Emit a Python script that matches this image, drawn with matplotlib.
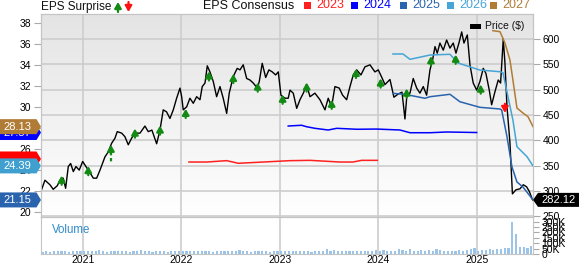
import numpy as np
import matplotlib
matplotlib.use("Agg")
import matplotlib.pyplot as plt
from matplotlib.colors import LinearSegmentedColormap
from matplotlib.patches import Polygon, Rectangle
from matplotlib.transforms import IdentityTransform, offset_copy

plt.rcParams['font.family'] = ['Liberation Sans', 'DejaVu Sans']

# ---- data (x in decimal years) ----
price_x = [2020.581, 2020.614, 2020.665, 2020.698, 2020.739, 2020.766, 2020.800, 2020.824, 2020.851, 2020.875,
           2020.902, 2020.929, 2020.962, 2020.997, 2021.030, 2021.071, 2021.105, 2021.139, 2021.173, 2021.223,
           2021.257, 2021.291, 2021.325, 2021.348, 2021.393, 2021.426, 2021.460, 2021.494, 2021.528, 2021.579,
           2021.629, 2021.663, 2021.700, 2021.748, 2021.782, 2021.815, 2021.849, 2021.883, 2021.917, 2021.951,
           2021.985, 2022.002, 2022.018, 2022.053, 2022.086, 2022.120, 2022.154, 2022.188, 2022.211, 2022.239,
           2022.262, 2022.289, 2022.323, 2022.357, 2022.391, 2022.424, 2022.459, 2022.485, 2022.526, 2022.566,
           2022.594, 2022.627, 2022.662, 2022.695, 2022.729, 2022.770, 2022.790, 2022.820, 2022.855, 2022.888,
           2022.922, 2022.956, 2022.983, 2023.010, 2023.051, 2023.084, 2023.102, 2023.135, 2023.170, 2023.203,
           2023.237, 2023.271, 2023.305, 2023.355, 2023.406, 2023.457, 2023.490, 2023.524, 2023.558, 2023.602,
           2023.636, 2023.677, 2023.711, 2023.744, 2023.779, 2023.822, 2023.863, 2023.914, 2023.964, 2023.998,
           2024.032, 2024.066, 2024.117, 2024.157, 2024.198, 2024.239, 2024.269, 2024.289, 2024.320, 2024.353,
           2024.388, 2024.421, 2024.455, 2024.489, 2024.523, 2024.550, 2024.574, 2024.597, 2024.624, 2024.658,
           2024.692, 2024.726, 2024.759, 2024.787, 2024.817, 2024.845, 2024.868, 2024.902, 2024.929, 2024.962,
           2024.997, 2025.030, 2025.064, 2025.091, 2025.125, 2025.149, 2025.183, 2025.216, 2025.240, 2025.267,
           2025.284, 2025.305, 2025.335, 2025.360, 2025.396, 2025.437, 2025.470, 2025.504, 2025.531, 2025.565]
price_y = [303, 321, 312, 303, 310, 321, 325, 305, 348, 354,
           338, 348, 341, 358, 348, 336, 325, 325, 341, 367,
           377, 394, 404, 417, 414, 407, 391, 404, 414, 414,
           428, 417, 420, 393, 420, 460, 456, 443, 460, 483,
           503, 486, 460, 466, 483, 473, 486, 480, 506, 513,
           547, 535, 516, 486, 506, 483, 453, 493, 526, 542,
           539, 549, 522, 519, 513, 503, 516, 552, 524, 539,
           535, 529, 535, 489, 483, 483, 499, 493, 463, 480,
           493, 509, 486, 493, 480, 460, 483, 466, 506, 503,
           489, 480, 506, 529, 539, 529, 545, 549, 535, 539,
           525, 510, 520, 485, 491, 495, 442, 490, 493, 522,
           503, 493, 506, 489, 539, 559, 585, 572, 592, 578,
           598, 582, 592, 572, 592, 614, 592, 608, 549, 513,
           499, 516, 542, 532, 499, 470, 496, 519, 513, 600,
           553, 466, 395, 294, 302, 304, 312, 308, 299, 282.12]

eps23_x = [2022.076, 2022.256, 2022.459, 2022.577, 2022.830, 2023.102, 2023.305, 2023.609, 2023.741, 2023.829, 2023.988]
eps23_y = [24.76, 24.76, 24.89, 24.64, 24.76, 24.89, 24.92, 24.76, 24.76, 24.92, 24.92]

eps24_x = [2023.084, 2023.220, 2023.271, 2023.355, 2023.490, 2023.576, 2023.779, 2023.982, 2024.218, 2024.320,
           2024.523, 2024.692, 2024.997]
eps24_y = [28.19, 28.26, 28.12, 27.97, 27.81, 27.97, 27.88, 27.90, 27.81, 27.55, 27.55, 27.62, 27.57]

eps25_x = [2024.150, 2024.269, 2024.472, 2024.523, 2024.726, 2024.827, 2025.030, 2025.234, 2025.251, 2025.305,
           2025.355, 2025.406, 2025.467, 2025.569]
eps25_y = [31.30, 31.21, 30.83, 30.98, 31.21, 30.50, 29.97, 29.81, 29.71, 27.17, 24.31, 22.86, 22.38, 21.15]

eps26_x = [2024.147, 2024.249, 2024.320, 2024.523, 2024.726, 2024.807, 2025.030, 2025.234, 2025.264, 2025.315,
           2025.365, 2025.406, 2025.508, 2025.569]
eps26_y = [35.05, 35.05, 34.54, 34.95, 35.02, 34.19, 33.52, 33.36, 33.27, 30.98, 28.76, 26.22, 25.27, 24.39]

eps27_x = [2025.162, 2025.234, 2025.284, 2025.335, 2025.365, 2025.406, 2025.467, 2025.518, 2025.569]
eps27_y = [37.27, 37.17, 36.10, 34.48, 32.57, 29.90, 29.43, 29.08, 28.13]

# earnings surprise arrows (positive = green up)
beat_x = [2020.784, 2021.054, 2021.284, 2021.528, 2021.782, 2022.043, 2022.279, 2022.526, 2022.774, 2023.027,
          2023.271, 2023.525, 2023.772, 2024.022, 2024.286, 2024.533, 2024.784, 2025.038]
beat_y = [321, 340, 382, 414, 420, 453, 527, 522, 505, 481,
          505, 471, 532, 513, 493, 557, 560, 501]
miss_x = [2025.284]
miss_y = [463]
gap_x, gap_top, gap_bottom = 2021.284, 376, 355   # dashed stem under the 2021 arrow

years = [2021, 2022, 2023, 2024, 2025]
eps_ticks = [20, 22, 24, 26, 28, 30, 32, 34, 36, 38]
price_ticks = [250, 300, 350, 400, 450, 500, 550, 600]
vol_ticks = [0, 50, 100, 150, 200, 250, 300]
vol_labels = ['0', '50K', '100K', '150K', '200K', '250K', '300K']

# biweekly volume, thousands of shares, from mid 2020
vol_start = 2020.59
vol_k = [22, 25, 20, 28, 24, 30, 26, 22, 27, 32, 25,
         28, 24, 30, 26, 33, 25, 22, 27, 31, 24, 26, 29, 23, 25, 28, 35, 26, 24, 22, 27, 30, 25, 23, 26, 28, 24,
         30, 26, 28, 32, 25, 24, 27, 29, 23, 26, 25, 28, 31, 24, 26, 38, 27, 25, 23, 26, 24, 28, 25, 22, 27, 26,
         25, 27, 24, 26, 28, 30, 26, 24, 23, 28, 32, 25, 44, 28, 40, 26, 24, 27, 25, 28, 24, 26, 25, 30, 26, 33,
         28, 38, 32, 26, 30, 42, 35, 30, 45, 32, 28, 40, 30, 36, 28, 44, 34, 30, 27, 32, 29, 35, 30, 40, 48, 57,
         30, 35, 38, 45, 40, 42, 50, 52, 55, 300, 188, 67, 62, 55, 76]

consensus_names = ['2023', '2024', '2025', '2026', '2027']
consensus_colors = ['#ff2020', '#0000ff', '#2a63ae', '#45a5d6', '#b07c35']
# (text, value, colour); the 2023 tag is almost fully covered, its text is not visible
left_tags = [('27.57', 27.57, '#0000ff'), ('28.13', 28.13, '#b07c35'),
             ('', 25.05, '#ff0000'), ('24.39', 24.39, '#3fa0d0'),
             ('21.15', 21.15, '#2a63ae')]
last_price = 282.12

# ---- layout (pixels) ----
W, H = 579, 264
L, R = 41, 533
TOP, MID, BOT = 14, 217, 254
fig = plt.figure(figsize=(W / 100, H / 100), dpi=100)
ax = fig.add_axes([L / W, (H - MID) / H, (R - L) / W, (MID - TOP) / H])
axv = fig.add_axes([L / W, (H - BOT) / H, (R - L) / W, (BOT - MID) / H], sharex=ax)
eps = ax.twinx()

spine_c = '#c4c4c4'
grid_c = '#cdcdcd'

# background gradient
cmap = LinearSegmentedColormap.from_list('bg', ['#ffffff', '#e4e4e4'])
grad = np.linspace(1, 0, 256).reshape(-1, 1)
ax.imshow(grad, extent=(0, 1, 0, 1), transform=ax.transAxes, cmap=cmap, aspect='auto', zorder=0)

# price
ax.plot(price_x, price_y, color='black', lw=1.0, zorder=3)
ax.set_xlim(2020.574, 2025.569)
ax.set_ylim(248.3, 649.4)
ax.set_yticks(price_ticks)
ax.set_xticks(years)
ax.set_axisbelow(True)
ax.grid(True, color=grid_c, lw=1.2)
ax.yaxis.tick_right()
ax.tick_params(axis='y', length=5, color='#aaaaaa', labelsize=7.5, pad=2)
ax.tick_params(axis='x', length=0, labelbottom=False)

# consensus lines on the EPS axis
for xs, ys, c in zip([eps23_x, eps24_x, eps25_x, eps26_x, eps27_x],
                     [eps23_y, eps24_y, eps25_y, eps26_y, eps27_y], consensus_colors):
    eps.plot(xs, ys, color=c, lw=1.1)
eps.set_ylim(19.524, 38.857)
eps.set_yticks(eps_ticks)
eps.yaxis.tick_left()
eps.tick_params(axis='y', length=5, color='#aaaaaa', labelsize=7.5, pad=2)

for a in (ax, eps, axv):
    for s in a.spines.values():
        s.set_color(spine_c)

# surprise arrows
ap_up = dict(arrowstyle='-|>,head_length=0.35,head_width=0.2', color='#138a13', lw=1.6,
             shrinkA=0, shrinkB=0, mutation_scale=10)
ap_dn = dict(ap_up, color='#ff1010')
for x, p in zip(beat_x, beat_y):
    eps.annotate('', xy=(x, p), xycoords=offset_copy(ax.transData, fig=fig, y=3.3, units='points'),
                 xytext=(0, -6.6), textcoords='offset points', arrowprops=ap_up, zorder=6)
ax.plot([gap_x, gap_x], [gap_top, gap_bottom], color='#138a13', lw=1.6, ls=(0, (1.5, 1.2)), zorder=6)
for x, p in zip(miss_x, miss_y):
    eps.annotate('', xy=(x, p), xycoords=offset_copy(ax.transData, fig=fig, y=-3.3, units='points'),
                 xytext=(0, 6.6), textcoords='offset points', arrowprops=ap_dn, zorder=6)

# volume
vol_x = vol_start + np.arange(len(vol_k)) / 26
axv.bar(vol_x, vol_k, width=0.022, color='#9cc4e8', zorder=2)
axv.set_ylim(0, 342)
axv.set_yticks(vol_ticks)
axv.set_yticklabels(vol_labels)
axv.yaxis.tick_right()
axv.tick_params(axis='y', length=4, color='#aaaaaa', labelsize=7.5, pad=2)
axv.tick_params(axis='x', length=0, labelsize=7.5, pad=0.8)
axv.set_xticks(years)
axv.set_xticklabels([str(y) for y in years])
axv.grid(True, axis='x', color=grid_c, lw=1.2)
axv.set_axisbelow(True)
axv.text(0.022, 0.66, 'Volume', transform=axv.transAxes, color='#2f8bcc', fontsize=8.3, va='center')

# ---- header legend (figure pixels) ----
px = IdentityTransform()
fig.text(41, H - 7, 'EPS Surprise', transform=px, fontsize=8.5, va='center', color='#111111')
eps.annotate('', xy=(118, H - 2), xycoords='figure pixels', xytext=(118, H - 12), textcoords='figure pixels',
             arrowprops=ap_up, annotation_clip=False)
eps.annotate('', xy=(128.5, H - 12), xycoords='figure pixels', xytext=(128.5, H - 2), textcoords='figure pixels',
             arrowprops=ap_dn, annotation_clip=False)
fig.text(203, H - 6, 'EPS Consensus', transform=px, fontsize=9, va='center', color='#111111')
leg_x = [304, 351, 400, 447, 490]
for lx, name, c in zip(leg_x, consensus_names, consensus_colors):
    fig.add_artist(Rectangle((lx, H - 9), 7, 7, transform=px, color=c, lw=0))
    fig.text(lx + 12, H - 5.5, name, transform=px, fontsize=9, va='center', color=c)
fig.add_artist(Rectangle((470, H - 28.5), 11, 5, transform=px, color='black', lw=0))
fig.text(485, H - 26, 'Price ($)', transform=px, fontsize=7.5, va='center', color='#111111')

# value tags on the axes, each tag stacked over the previous one
for i, (txt, v, c) in enumerate(left_tags):
    yc = eps.transData.transform((2023, v))[1]
    fig.add_artist(Polygon([(0, yc - 7.5), (36.5, yc - 7.5), (41, yc), (36.5, yc + 7.5), (0, yc + 7.5)],
                           closed=True, transform=px, color=c, lw=0, zorder=10 + 2 * i))
    if txt:
        fig.text(17, yc, txt, transform=px, fontsize=8, color='white', ha='center', va='center',
                 zorder=11 + 2 * i)
yc = ax.transData.transform((2023, last_price))[1]
fig.add_artist(Polygon([(533, yc), (538, yc - 7), (579, yc - 7), (579, yc + 7), (538, yc + 7)],
                       closed=True, transform=px, color='black', lw=0, zorder=20))
fig.text(559, yc, f'{last_price:.2f}', transform=px, fontsize=8, color='white', ha='center', va='center',
         zorder=21)

fig.savefig('out.png', dpi=100)
